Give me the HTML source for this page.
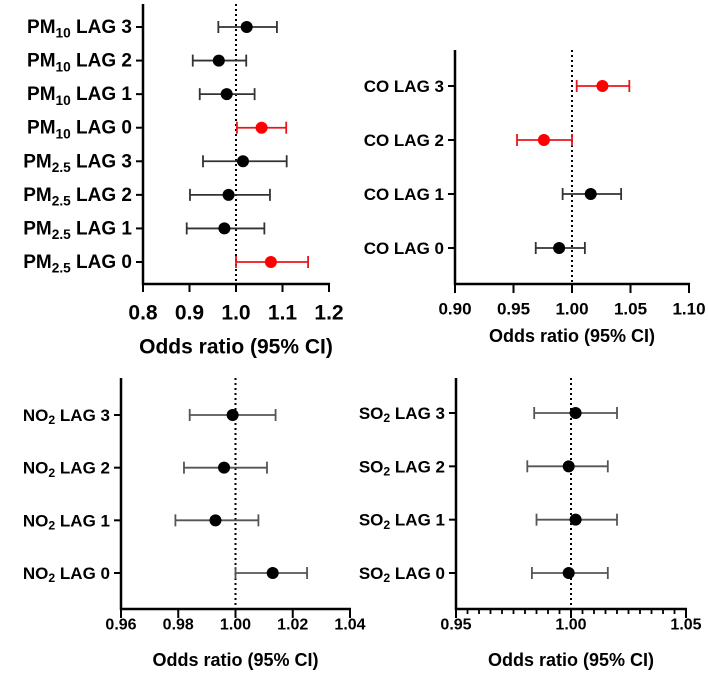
<!DOCTYPE html>
<html><head><meta charset="utf-8"><style>
html,body{margin:0;padding:0;background:#fff;}
svg{display:block;font-family:"Liberation Sans",Arial,sans-serif;font-weight:bold;}
</style></head><body>
<svg id="c" width="708" height="675" viewBox="0 0 708 675" xmlns="http://www.w3.org/2000/svg"></svg>
<script>
// PM panel data
const pmLabels = [["PM","10"," LAG 3"],["PM","10"," LAG 2"],["PM","10"," LAG 1"],["PM","10"," LAG 0"],["PM","2.5"," LAG 3"],["PM","2.5"," LAG 2"],["PM","2.5"," LAG 1"],["PM","2.5"," LAG 0"]];
const pmOR = [1.023,0.963,0.980,1.055,1.015,0.984,0.975,1.075];
const pmLo = [0.962,0.907,0.922,1.002,0.929,0.901,0.894,1.000];
const pmHi = [1.088,1.022,1.040,1.108,1.109,1.073,1.061,1.155];
const pmSig = [0,0,0,1,0,0,0,1];
const pmTicks = ["0.8","0.9","1.0","1.1","1.2"];
// CO panel data
const coLabels = [["CO LAG 3","",""],["CO LAG 2","",""],["CO LAG 1","",""],["CO LAG 0","",""]];
const coOR = [1.026,0.976,1.016,0.989];
const coLo = [1.004,0.953,0.992,0.969];
const coHi = [1.049,1.000,1.042,1.011];
const coSig = [1,1,0,0];
const coTicks = ["0.90","0.95","1.00","1.05","1.10"];
// NO2 panel data
const noLabels = [["NO","2"," LAG 3"],["NO","2"," LAG 2"],["NO","2"," LAG 1"],["NO","2"," LAG 0"]];
const noOR = [0.999,0.996,0.993,1.013];
const noLo = [0.984,0.982,0.979,1.000];
const noHi = [1.014,1.011,1.008,1.025];
const noSig = [0,0,0,0];
const noTicks = ["0.96","0.98","1.00","1.02","1.04"];
// SO2 panel data
const soLabels = [["SO","2"," LAG 3"],["SO","2"," LAG 2"],["SO","2"," LAG 1"],["SO","2"," LAG 0"]];
const soOR = [1.002,0.999,1.002,0.999];
const soLo = [0.984,0.981,0.985,0.983];
const soHi = [1.020,1.016,1.020,1.016];
const soSig = [0,0,0,0];
const soTicks = ["0.95","1.00","1.05"];

const NS="http://www.w3.org/2000/svg";
const svg=document.getElementById('c');
function mk(tag,attrs,parent){const e=document.createElementNS(NS,tag);for(const k in attrs)e.setAttribute(k,attrs[k]);(parent||svg).appendChild(e);return e;}

function panel(p){
  const g=mk('g',{});
  
  
  const n=p.labels.length;
  const xs=v=>p.x0+(v-p.min)/(p.max-p.min)*(p.x1-p.x0);
  const ys=i=>p.yFirst+i*(p.yLast-p.yFirst)/(n-1);
  const ref=mk('line',{x1:xs(1),x2:xs(1),y1:p.yTop,y2:p.yAxis,stroke:'#000','stroke-width':2,'stroke-dasharray':'2,3'},g);
  
  
  const ya=mk('line',{x1:p.x0,x2:p.x0,y1:p.yTop,y2:p.yAxis+1,stroke:'#000','stroke-width':2.5},g);
  
  
  const xa=mk('line',{x1:p.x0-1,x2:p.x1+1,y1:p.yAxis,y2:p.yAxis,stroke:'#000','stroke-width':2.5},g);
  
  
  const nt=p.ticks.length;
  for(let k=0;k<nt;k++){
    const v=p.min+k*(p.max-p.min)/(nt-1);
    mk('line',{x1:xs(v),x2:xs(v),y1:p.yAxis,y2:p.yAxis+p.tickLen,stroke:'#000','stroke-width':2},g);
    const t=mk('text',{x:xs(v),y:p.tickY,'text-anchor':'middle','dominant-baseline':'central','font-size':p.tickFs},g);
    t.textContent=p.ticks[k];
    
    
  }
  if(p.minor){
    for(let v=p.min;v<p.max+1e-9;v+=p.minor){
      mk('line',{x1:xs(v),x2:xs(v),y1:p.yAxis,y2:p.yAxis+5,stroke:'#000','stroke-width':1.8},g);
    }
  }
  const tt=mk('text',{x:(p.x0+p.x1)/2,y:p.titleY,'text-anchor':'middle','dominant-baseline':'central','font-size':p.titleFs},g);
  tt.textContent='Odds ratio (95% CI)';
  
  
  for(let i=0;i<n;i++){
    const y=ys(i);
    mk('line',{x1:p.x0-7,x2:p.x0,y1:y,y2:y,stroke:'#000','stroke-width':2},g);
    const L=p.labels[i];
    const t=mk('text',{x:p.x0-11,y:y,'text-anchor':'end','dominant-baseline':'central','font-size':p.labFs},g);
    
    
    const a=mk('tspan',{},t);a.textContent=L[0];
    if(L[1]){const s=mk('tspan',{dy:p.labFs*0.3,'font-size':p.labFs*0.72},t);s.textContent=L[1];
      const r=mk('tspan',{dy:-p.labFs*0.3},t);r.textContent=L[2];}
    const col=p.sig[i]?'#e8161b':p.barCol;
    const eg=mk('g',{},g);
    
    
    mk('line',{x1:xs(p.lo[i]),x2:xs(p.hi[i]),y1:y,y2:y,stroke:col,'stroke-width':1.8},eg);
    mk('line',{x1:xs(p.lo[i]),x2:xs(p.lo[i]),y1:y-6,y2:y+6,stroke:col,'stroke-width':1.8},eg);
    mk('line',{x1:xs(p.hi[i]),x2:xs(p.hi[i]),y1:y-6,y2:y+6,stroke:col,'stroke-width':1.8},eg);
    const c=mk('circle',{cx:xs(p.or[i]),cy:y,r:p.r,fill:p.sig[i]?'#f00':'#000'},eg);
    
    
  }
}
panel({name:'pm-panel',labels:pmLabels,or:pmOR,lo:pmLo,hi:pmHi,sig:pmSig,ticks:pmTicks,min:0.8,max:1.2,x0:143,x1:329,yTop:4,yAxis:284,yFirst:27,yLast:262,tickLen:8,tickY:313,tickFs:21,titleY:347,titleFs:21,labFs:19,r:6,barCol:'#333'});
panel({name:'co-panel',labels:coLabels,or:coOR,lo:coLo,hi:coHi,sig:coSig,ticks:coTicks,min:0.9,max:1.1,x0:455,x1:689,yTop:50,yAxis:284,yFirst:86,yLast:248,tickLen:9,tickY:309,tickFs:17,titleY:336,titleFs:18,labFs:17,r:6,barCol:'#333'});
panel({name:'no2-panel',labels:noLabels,or:noOR,lo:noLo,hi:noHi,sig:noSig,ticks:noTicks,min:0.96,max:1.04,x0:121,x1:350,yTop:378,yAxis:609,yFirst:415,yLast:573,tickLen:9,tickY:625,tickFs:16,titleY:660,titleFs:18,labFs:17,r:6,barCol:'#555'});
panel({name:'so2-panel',labels:soLabels,or:soOR,lo:soLo,hi:soHi,sig:soSig,ticks:soTicks,min:0.95,max:1.05,minor:0.005,x0:456,x1:686,yTop:378,yAxis:609,yFirst:413,yLast:573,tickLen:9,tickY:625,tickFs:16,titleY:660,titleFs:18,labFs:17,r:6,barCol:'#555'});
</script>
</body></html>
